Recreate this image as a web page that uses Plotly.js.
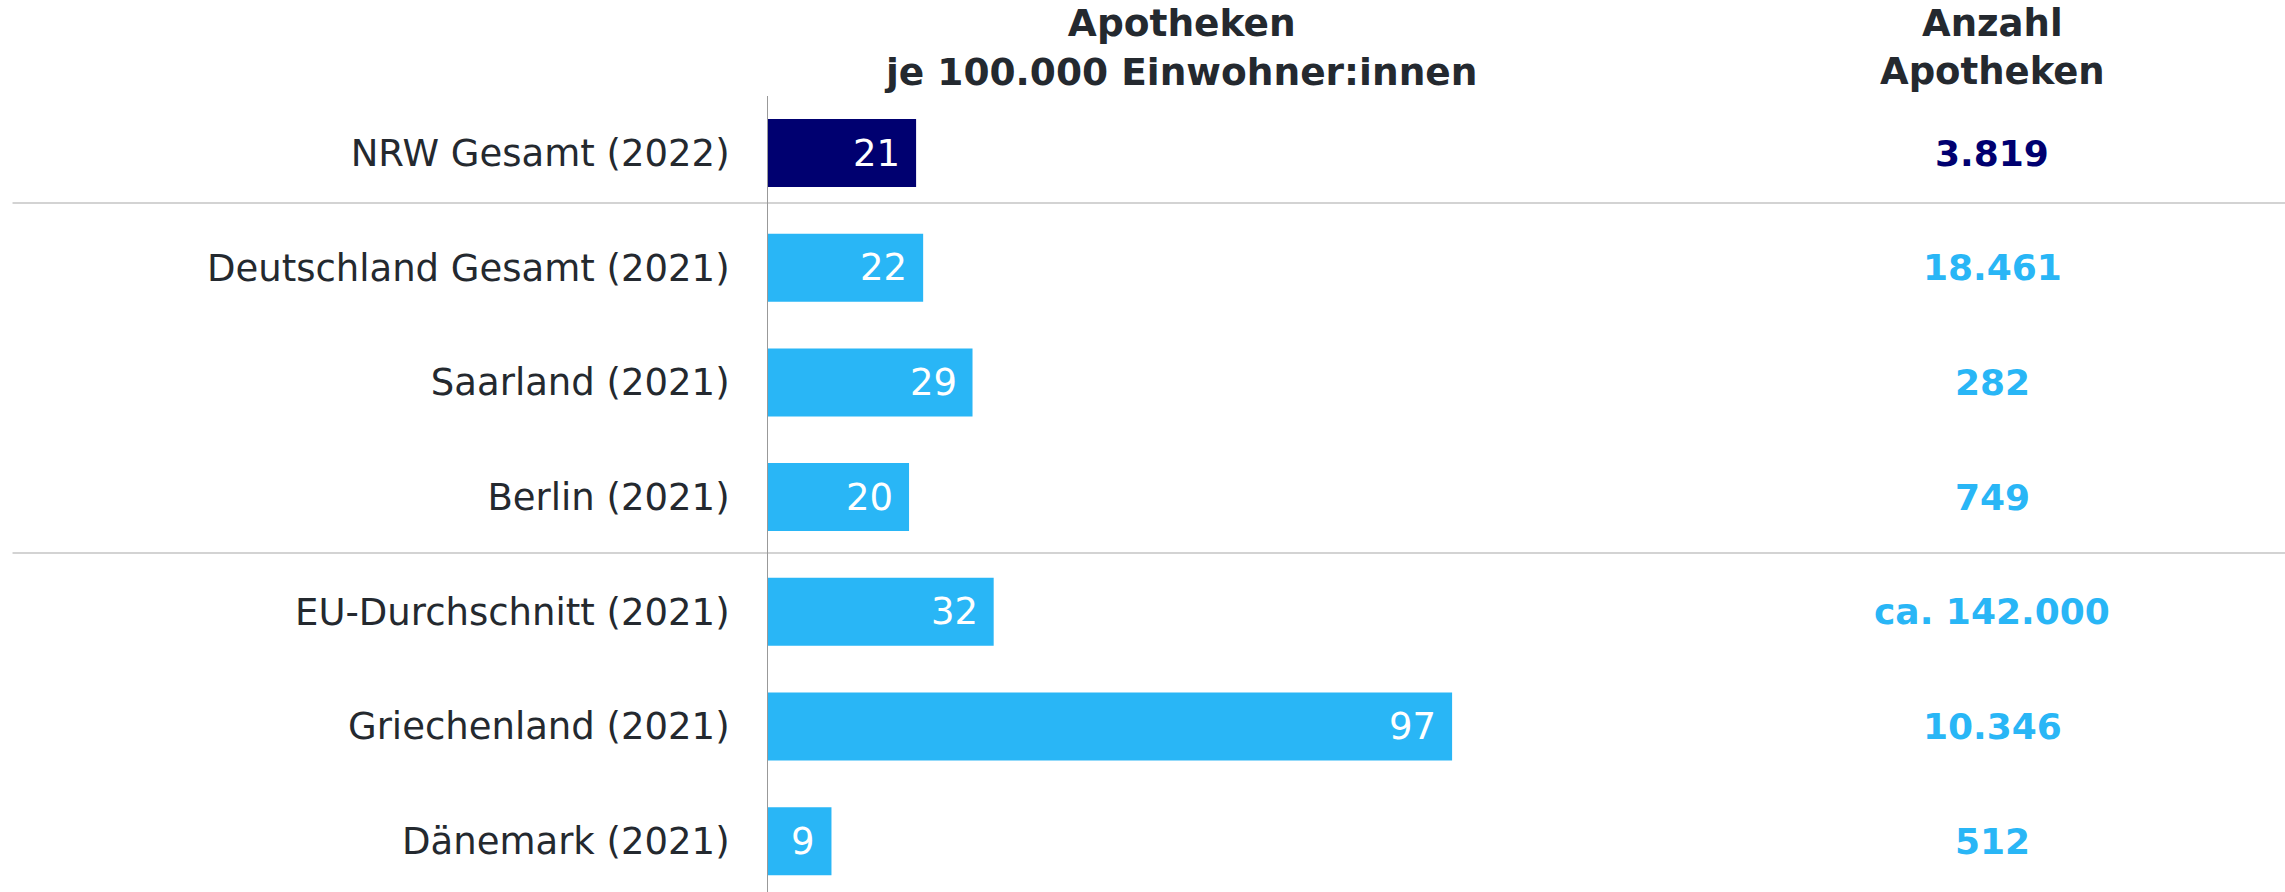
<!DOCTYPE html>
<html>
<head>
<meta charset="utf-8">
<script src="https://cdn.plot.ly/plotly-3.0.1.min.js"></script>
<style>html,body{margin:0;padding:0;background:#fff;}#chart{width:2285px;height:892px;}</style>
</head>
<body>
<div id="chart"></div>
<script>
const categories = [
  "NRW Gesamt (2022)",
  "Deutschland Gesamt (2021)",
  "Saarland (2021)",
  "Berlin (2021)",
  "EU-Durchschnitt (2021)",
  "Griechenland (2021)",
  "Dänemark (2021)"
];
const perCapita = [21, 22, 29, 20, 32, 97, 9];
const pharmacyCounts = ["3.819", "18.461", "282", "749", "ca. 142.000", "10.346", "512"];
const headerLeft = "Apotheken<br>je 100.000 Einwohner:innen";
const headerRight = "Anzahl<br>Apotheken";

const NAVY = "#000070";
const LIGHT = "#29b6f6";
const TEXT = "#24292f";
const FONT = "DejaVu Sans, Verdana, sans-serif";

const colors = categories.map((c, i) => i === 0 ? NAVY : LIGHT);

const trace = {
  type: "bar",
  orientation: "h",
  y: categories,
  x: perCapita,
  marker: {color: colors, line: {width: 0}},
  hoverinfo: "skip",
  width: 0.593
};

const annotations = [];
categories.forEach((c, i) => {
  annotations.push({
    x: perCapita[i], y: c, xref: "x", yref: "y",
    text: String(perCapita[i]), showarrow: false,
    xanchor: "right", yanchor: "middle", xshift: -14,
    font: {family: FONT, size: 37, color: "#ffffff"}
  });
  annotations.push({
    x: 0.807, y: c, xref: "paper", yref: "y",
    text: "<b>" + pharmacyCounts[i] + "</b>", showarrow: false,
    xanchor: "center", yanchor: "middle",
    font: {family: FONT, size: 36, color: i === 0 ? NAVY : LIGHT}
  });
});
annotations.push({
  x: 0.272, y: 1.061, xref: "paper", yref: "paper",
  text: "<b>" + headerLeft + "</b>", showarrow: false,
  xanchor: "center", yanchor: "middle",
  font: {family: FONT, size: 37.5, color: TEXT}
});
annotations.push({
  x: 0.807, y: 1.061, xref: "paper", yref: "paper",
  text: "<b>" + headerRight + "</b>", showarrow: false,
  xanchor: "center", yanchor: "middle",
  font: {family: FONT, size: 37, color: TEXT}
});

const sepLine = (yp) => ({
  type: "line", xref: "paper", yref: "paper",
  x0: -0.498, x1: 1.0, y0: yp, y1: yp,
  line: {color: "#d3d3d3", width: 2}, layer: "below"
});

const layout = {
  width: 2285, height: 892,
  margin: {l: 768, r: 0, t: 96, b: 0, pad: 0},
  paper_bgcolor: "#ffffff", plot_bgcolor: "#ffffff",
  showlegend: false,
  xaxis: {range: [0, 215.1], visible: false, fixedrange: true},
  yaxis: {
    type: "category",
    categoryorder: "array", categoryarray: categories,
    range: [6.443, -0.497],
    showgrid: false, zeroline: false,
    showline: true, linecolor: "#999999", linewidth: 1,
    ticks: "", ticklabelstandoff: 30,
    tickfont: {family: FONT, size: 37, color: TEXT},
    fixedrange: true
  },
  shapes: [sepLine(0.8656), sepLine(0.4259)],
  annotations: annotations
};

Plotly.newPlot("chart", [trace], layout, {displayModeBar: false, staticPlot: true});
</script>
</body>
</html>
